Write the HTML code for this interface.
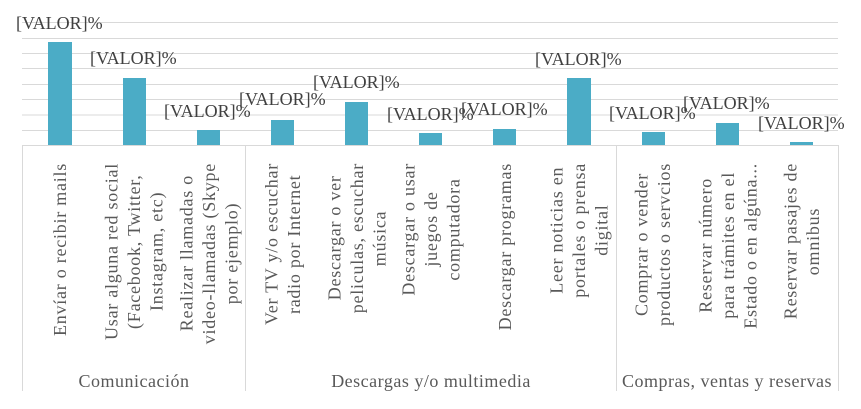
<!DOCTYPE html>
<html><head><meta charset="utf-8"><style>
html,body{margin:0;padding:0;background:#fff;}
#c{position:relative;width:861px;height:409px;overflow:hidden;font-family:"Liberation Serif",serif;}
.r{position:absolute;top:163px;writing-mode:vertical-rl;transform:translateX(-50%) rotate(180deg);text-align:center;font-size:18px;letter-spacing:0.75px;line-height:22.5px;color:#595959;white-space:nowrap;}
</style></head><body><div id="c">
<svg width="861" height="409" style="position:absolute;left:0;top:0">
<g stroke="#d9d9d9" stroke-width="1">
<line x1="22" x2="838" y1="22.5" y2="22.5"/><line x1="22" x2="838" y1="38.5" y2="38.5"/>
<line x1="22" x2="838" y1="53.5" y2="53.5"/><line x1="22" x2="838" y1="68.5" y2="68.5"/>
<line x1="22" x2="838" y1="84.5" y2="84.5"/><line x1="22" x2="838" y1="99.5" y2="99.5"/>
<line x1="22" x2="838" y1="115" y2="115"/><line x1="22" x2="838" y1="130.5" y2="130.5"/>
<line x1="22" x2="838" y1="145.5" y2="145.5"/>
<line x1="22.5" x2="22.5" y1="145" y2="391"/><line x1="245.5" x2="245.5" y1="145" y2="391"/>
<line x1="616.5" x2="616.5" y1="145" y2="391"/><line x1="838.5" x2="838.5" y1="145" y2="391"/>
</g>
<g fill="#4bacc6">
<rect x="48" y="42" width="24" height="103"/><rect x="123" y="78" width="23" height="67"/>
<rect x="197" y="130" width="23" height="15"/><rect x="271" y="120" width="23" height="25"/>
<rect x="345" y="102" width="23" height="43"/><rect x="419" y="133" width="23" height="12"/>
<rect x="493" y="129" width="23" height="16"/><rect x="567" y="78" width="24" height="67"/>
<rect x="642" y="132" width="23" height="13"/><rect x="716" y="123" width="23" height="22"/>
<rect x="790" y="142" width="23" height="3"/>
</g>
<g font-family="Liberation Serif, serif" font-size="18" fill="#404040">
<text x="16" y="29">[VALOR]%</text><text x="90" y="64">[VALOR]%</text>
<text x="164" y="117">[VALOR]%</text><text x="239" y="105">[VALOR]%</text>
<text x="313" y="88">[VALOR]%</text><text x="387" y="120">[VALOR]%</text>
<text x="461" y="115">[VALOR]%</text><text x="535" y="65">[VALOR]%</text>
<text x="609" y="119">[VALOR]%</text><text x="683" y="109">[VALOR]%</text>
<text x="758" y="129">[VALOR]%</text>
</g>
<g font-family="Liberation Serif, serif" font-size="18" fill="#595959" text-anchor="middle" letter-spacing="0.5">
<text x="134" y="387">Comunicación</text>
<text x="431" y="387">Descargas y/o multimedia</text>
<text x="727" y="387">Compras, ventas y reservas</text>
</g>
</svg>
<div class="r" style="left:60px">Envíar o recibir mails</div>
<div class="r" style="left:134px">Usar alguna red social<br>(Facebook, Twitter,<br>Instagram, etc)</div>
<div class="r" style="left:209px">Realizar llamadas o<br>video-llamadas (Skype<br>por ejemplo)</div>
<div class="r" style="left:283px">Ver TV y/o escuchar<br>radio por Internet</div>
<div class="r" style="left:357px">Descargar o ver<br>peliculas, escuchar<br>música</div>
<div class="r" style="left:431px">Descargar o usar<br>juegos de<br>computadora</div>
<div class="r" style="left:505px">Descargar programas</div>
<div class="r" style="left:579px">Leer noticias en<br>portales o prensa<br>digital</div>
<div class="r" style="left:653px">Comprar o vender<br>productos o servcios</div>
<div class="r" style="left:728px">Reservar número<br>para trámites en el<br>Estado o en algúna...</div>
<div class="r" style="left:802px">Reservar pasajes de<br>omnibus</div>
</div></body></html>
